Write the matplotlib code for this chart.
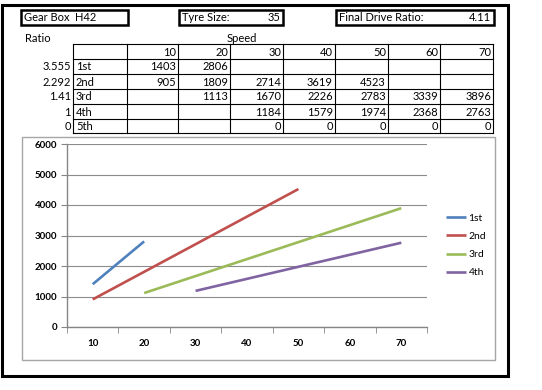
import numpy as np
import matplotlib.pyplot as plt
from matplotlib.patches import Rectangle

plt.rcParams['font.family'] = ['Lato', 'DejaVu Sans']

# Header fields
gear_box = 'H42'
tyre_size = '35'
final_drive = '4.11'

# Table data
speeds = [10, 20, 30, 40, 50, 60, 70]
gears = ['1st', '2nd', '3rd', '4th', '5th']
ratios = ['3.555', '2.292', '1.41', '1', '0']
rpm_1st = [1403, 2806, None, None, None, None, None]
rpm_2nd = [905, 1809, 2714, 3619, 4523, None, None]
rpm_3rd = [None, 1113, 1670, 2226, 2783, 3339, 3896]
rpm_4th = [None, None, 1184, 1579, 1974, 2368, 2763]
rpm_5th = [None, None, 0, 0, 0, 0, 0]
rpm_rows = [rpm_1st, rpm_2nd, rpm_3rd, rpm_4th, rpm_5th]

colors = ['#4F81BD', '#C0504D', '#9BBB59', '#8064A2']

W, H = 542, 390
fig = plt.figure(figsize=(W / 100, H / 100), dpi=100)

# Background axes in pixel coordinates for the sheet
bg = fig.add_axes([0, 0, 1, 1])
bg.set_xlim(0, W)
bg.set_ylim(H, 0)
bg.axis('off')

fs = 8
# outer border
bg.add_patch(Rectangle((2, 5), 506, 371, fill=False, lw=2.2, ec='black'))

# header boxes
bg.add_patch(Rectangle((21, 10), 107, 15, fill=False, lw=1.8, ec='black'))
bg.text(24, 17.5, 'Gear Box', fontsize=fs, va='center')
bg.text(75, 17.5, gear_box, fontsize=fs, va='center')
bg.add_patch(Rectangle((179, 10), 104, 15, fill=False, lw=1.8, ec='black'))
bg.text(182, 17.5, 'Tyre Size:', fontsize=fs, va='center')
bg.text(280, 17.5, tyre_size, fontsize=fs, va='center', ha='right')
bg.add_patch(Rectangle((336, 10), 158, 15, fill=False, lw=1.8, ec='black'))
bg.text(339, 17.5, 'Final Drive Ratio:', fontsize=fs, va='center')
bg.text(491, 17.5, final_drive, fontsize=fs, va='center', ha='right')

bg.text(25, 38, 'Ratio', fontsize=fs, va='center')
bg.text(227, 38, 'Speed', fontsize=fs, va='center')

# table grid
col_x = [73, 127, 178, 230, 283, 335, 388, 440, 493]
row_y = [44, 59, 74, 89, 104, 119, 133]
for x in col_x:
    bg.plot([x, x], [row_y[0], row_y[-1]], color='black', lw=0.8)
for y in row_y:
    bg.plot([col_x[0], col_x[-1]], [y, y], color='black', lw=0.8)

def row_mid(i):
    return (row_y[i] + row_y[i + 1]) / 2 + 0.5

for j, s in enumerate(speeds):
    bg.text(col_x[j + 2] - 2, row_mid(0), str(s), fontsize=fs, ha='right', va='center')
for i, g in enumerate(gears):
    bg.text(71, row_mid(i + 1), ratios[i], fontsize=fs, ha='right', va='center')
    bg.text(76, row_mid(i + 1), g, fontsize=fs, ha='left', va='center')
    for j, v in enumerate(rpm_rows[i]):
        if v is not None:
            bg.text(col_x[j + 2] - 2, row_mid(i + 1), str(v), fontsize=fs,
                    ha='right', va='center')

# chart frame
bg.add_patch(Rectangle((22, 137), 473, 223, fill=False, lw=1, ec='#A6A6A6'))

# chart
ax = fig.add_axes([67 / W, 1 - 327 / H, 360 / W, 183 / H])
ax.set_facecolor('white')
xpos = np.arange(len(speeds))
for k in range(4):
    vals = np.array([np.nan if v is None else v for v in rpm_rows[k]], dtype=float)
    ax.plot(xpos, vals, color=colors[k], lw=1.9, label=gears[k],
            solid_capstyle='butt')

ax.set_xlim(-0.5, len(speeds) - 0.5)
ax.set_ylim(0, 6000)
ax.set_yticks(np.arange(0, 6001, 1000))
ax.set_xticks(xpos)
ax.set_xticklabels([str(s) for s in speeds])
ax.set_xticks(np.arange(-0.5, len(speeds)), minor=True)
ax.tick_params(axis='x', which='major', length=0, pad=9, labelsize=7)
ax.tick_params(axis='x', which='minor', length=4, color='#868686', direction='out')
ax.tick_params(axis='y', length=4, color='#868686', pad=3, labelsize=7)
for lab in ax.get_xticklabels() + ax.get_yticklabels():
    lab.set_fontweight('bold')
ax.grid(axis='y', color='#8C8C8C', lw=0.8)
ax.set_axisbelow(True)
for side in ['top', 'right']:
    ax.spines[side].set_visible(False)
for side in ['left', 'bottom']:
    ax.spines[side].set_color('#868686')
    ax.spines[side].set_linewidth(1)

ax.legend(loc='center left', bbox_to_anchor=(1.04, 0.445), frameon=False,
          fontsize=7.5, handlelength=2.0, handletextpad=0.2, labelspacing=0.85,
          borderaxespad=0)

fig.savefig('out.png', dpi=100)
